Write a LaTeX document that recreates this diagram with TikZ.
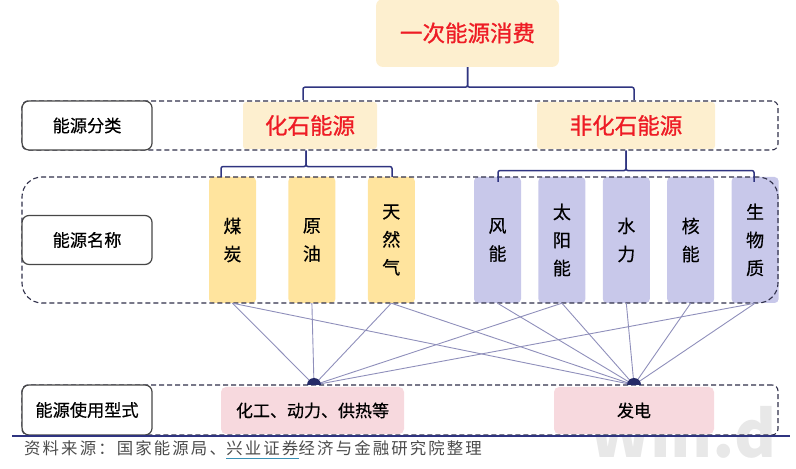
\documentclass[tikz,border=0pt]{standalone}
\usepackage{fontspec}
\usepackage{xcolor}
\setmainfont{Noto Sans CJK SC}
\newfontfamily\srcfont[LetterSpace=13]{Noto Sans CJK SC}
\newfontfamily\labelfont[FakeBold=0.4]{Noto Sans CJK SC}
\newfontfamily\headfont[FakeBold=1]{Noto Sans CJK SC}
\usetikzlibrary{positioning}
\definecolor{navyline}{HTML}{2F3480}
\definecolor{thinline}{HTML}{8F8FBB}
\definecolor{dashline}{HTML}{30304A}
\definecolor{creamfill}{HTML}{FDEFCF}
\definecolor{goldfill}{HTML}{FFE49E}
\definecolor{lilacfill}{HTML}{C8C8EA}
\definecolor{pinkfill}{HTML}{F7D9DE}
\definecolor{headred}{HTML}{EE1C25}

\begin{document}
\begin{tikzpicture}[
        x=1pt,
        y=1pt,
        headbox/.style={
            rectangle,
            fill=creamfill,
            rounded corners=3pt,
            inner sep=0pt,
            minimum height=47pt,
            text=headred,
            font=\fontsize{22.5}{26}\selectfont\headfont
        },
        column/.style={
            rectangle,
            rounded corners=4pt,
            inner sep=0pt,
            minimum width=47pt,
            minimum height=126pt,
            align=center,
            font=\fontsize{18}{28}\selectfont\labelfont
        },
        usebox/.style={
            rectangle,
            fill=pinkfill,
            rounded corners=5pt,
            inner sep=0pt,
            minimum height=47pt,
            font=\fontsize{17}{20}\selectfont\labelfont
        },
        band/.style={
            rectangle,
            draw=dashline,
            line width=1.1pt,
            dash pattern=on 5pt off 3pt,
            rounded corners=6pt,
            inner sep=0pt,
            minimum width=756pt
        },
        rowlabel/.style={
            rectangle,
            draw=black!72,
            line width=1.2pt,
            fill=white,
            rounded corners=7pt,
            inner sep=0pt,
            minimum width=130pt,
            minimum height=49pt,
            font=\fontsize{17.2}{20}\selectfont\labelfont
        },
        trunk/.style={
            navyline,
            line width=1.5pt,
            rounded corners=2pt
        },
        feed/.style={
            thinline,
            line width=0.9pt
        },
        srctext/.style={
            inner sep=0pt,
            text=black!70,
            font=\fontsize{16.4}{20}\selectfont\srcfont
        }
    ]
        \useasboundingbox (0,0) rectangle (796,469);

        % Watermark
        \node[anchor=base west, inner sep=0pt, text=black!9, font=\fontsize{64}{70}\selectfont\bfseries] (mark) at (590,11) {Win.d};

        % Nodes
        \node[headbox, minimum width=183pt, minimum height=68pt, rounded corners=7pt] (total) at (467.5,436) {一次能源消费};
        \node[headbox, minimum width=134pt] (fossil) at (310,343.5) {化石能源};
        \node[headbox, minimum width=178pt] (nonfossil) at (626,343.5) {非化石能源};

        \node[column, fill=goldfill] (coal) at (232.5,229) {煤\\炭};
        \node[column, fill=goldfill, right=32pt of coal] (oil) {原\\油};
        \node[column, fill=goldfill, right=32pt of oil] (gas) {天\\然\\气};

        \node[column, fill=lilacfill] (wind) at (497.5,229) {风\\能};
        \node[column, fill=lilacfill, right=17pt of wind] (solar) {太\\阳\\能};
        \node[column, fill=lilacfill, right=17pt of solar] (hydro) {水\\力};
        \node[column, fill=lilacfill, right=17pt of hydro] (nuclear) {核\\能};
        \node[column, fill=lilacfill, right=17pt of nuclear] (biomass) {生\\物\\质};

        \node[usebox, minimum width=183pt] (chem) at (312.5,58.5) {化工、动力、供热等};
        \node[usebox, minimum width=160pt] (power) at (634,58.5) {发电};

        % Dashed rows
        \node[band, minimum height=49pt] (classrow) at (400,343.5) {};
        \node[band, minimum height=126pt, rounded corners=20pt] (namerow) at (400,229) {};
        \node[band, minimum height=50pt] (userow) at (400,59) {};

        % Row labels
        \node[rowlabel, anchor=west] (classlabel) at (classrow.west) {能源分类};
        \node[rowlabel, anchor=west] (namelabel) at (namerow.west) {能源名称};
        \node[rowlabel, anchor=west, minimum height=50pt] (uselabel) at (userow.west) {能源使用型式};

        % Free ends
        \coordinate (fossildrop) at (303,369);
        \coordinate (nonfossildrop) at (634,369);
        \coordinate (coaldrop) at (221,292);
        \coordinate (gasdrop) at (392,292);
        \coordinate (winddrop) at (498,287);
        \coordinate (biodrop) at (754,287);
        \coordinate (huba) at (314,84);
        \coordinate (hubb) at (634,84);
        \coordinate (ruleleft) at (12,33);
        \coordinate (ruleright) at (790,33);

        % Edges
        \draw[trunk] (total.south) -- ++(0,-20) -| (fossildrop);
        \draw[trunk] (total.south) -- ++(0,-20) -| (nonfossildrop);
        \draw[trunk] (fossil.south |- classrow.south) ++(-4,0) -- ++(0,-16) -| (coaldrop);
        \draw[trunk] (fossil.south |- classrow.south) ++(-4,0) -- ++(0,-16) -| (gasdrop);
        \draw[trunk] (nonfossil.south |- classrow.south) -- ++(0,-20) -| (winddrop);
        \draw[trunk] (nonfossil.south |- classrow.south) -- ++(0,-20) -| (biodrop);

        \foreach \src in {coal,oil,gas,solar,biomass}
            \draw[feed] (\src.south) -- (huba);
        \foreach \src in {coal,gas,wind,solar,hydro,nuclear,biomass}
            \draw[feed] (\src.south) -- (hubb);

        \fill[navyline!80!black] (huba) ++(-7,0) arc (180:0:7) -- cycle;
        \fill[navyline!80!black] (hubb) ++(-7,0) arc (180:0:7) -- cycle;

        \draw[navyline, line width=1.5pt] (ruleleft) -- (ruleright);

        % Source line
        \node[srctext, anchor=base west] (srca) at (24,14) {资料来源：国家能源局、};
        \node[srctext, anchor=base west] (srcb) at (srca.base east) {兴业证券};
        \node[srctext, anchor=base west] (srcc) at (srcb.base east) {经济与金融研究院整理};
        \draw[cyan!70!black, line width=1pt] ([yshift=-2pt]srcb.south west) -- ([yshift=-2pt]srcb.south east);
    \end{tikzpicture}
\end{document}
